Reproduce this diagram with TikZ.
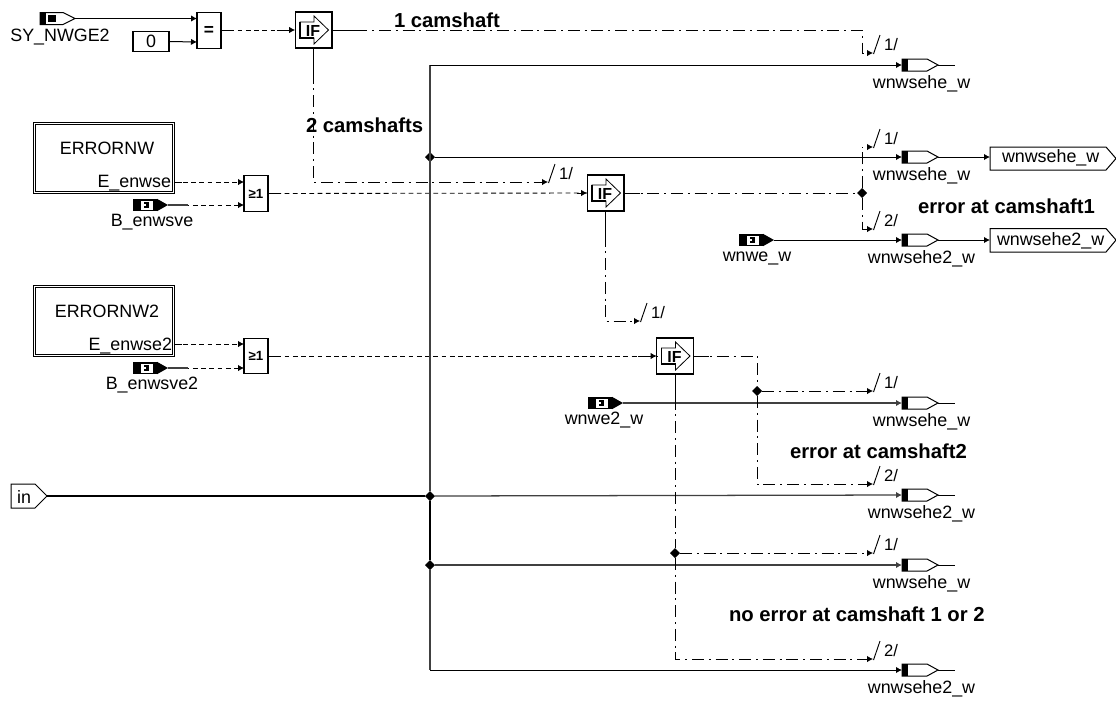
\documentclass[tikz,border=0pt]{standalone}
\usepackage{fontspec}
\setmainfont{Liberation Sans}
\usetikzlibrary{arrows.meta,shapes.geometric}
\tikzset{
  every node/.style={inner sep=0pt,outer sep=0pt},
  wire/.style={line width=0.75pt,draw=black},
  wireg/.style={line width=0.95pt,draw=black!75},
  tip/.style={-{Latex[length=4.5pt,width=4.8pt]}},
  thickwire/.style={line width=1.6pt,draw=black},
  boolwire/.style={line width=0.65pt,draw=black,dash pattern=on 3.6pt off 2.6pt},
  ctlwire/.style={line width=0.65pt,draw=black,dash pattern=on 9pt off 3.6pt on 1.5pt off 3.6pt},
  lbl/.style={font=\fontsize{13.4pt}{14pt}\selectfont},
  blbl/.style={font=\bfseries\fontsize{15.2pt}{16pt}\selectfont,anchor=west},
  busl/.style={font=\fontsize{12.5pt}{13pt}\selectfont,anchor=west},
  ifbox/.style={draw=black,line width=1pt,fill=white,minimum width=27.5pt,minimum height=27pt},
  gatebox/.style={draw=black,line width=0.85pt,fill=white,minimum width=18pt,minimum height=26.5pt,font=\bfseries\fontsize{10pt}{10pt}\selectfont},
  ctbox/.style={draw=black,line width=0.85pt,fill=white,minimum width=27pt,minimum height=15.5pt,font=\fontsize{13.4pt}{14pt}\selectfont},
  subsys/.style={draw=black,double=white,double distance=1.2pt,line width=0.6pt,fill=white,minimum width=104pt,minimum height=52pt},
  dot/.style={diamond,fill=black,minimum size=7.5pt},
}
% IF block contents
\newcommand{\ifglyph}[1]{%
  \begin{scope}[shift={(#1)}]
    \draw[line width=0.6pt,fill=white] (-13.5,-8)--(0.5,-8)--(0.5,-14)--(15,0)--(0.5,14)--(0.5,8)--(-13.5,8)--cycle;
    \draw[line width=1.2pt] (-13.5,-8)--(-13.5,8)--(0.5,8);
    \node[font=\bfseries\fontsize{12pt}{12pt}\selectfont] at (-0.5,0.5) {IF};
  \end{scope}}
% read block: name, left x, centre y, label offset, label, label x
\newcommand{\readblk}[6]{%
  \coordinate (#1) at (#2+35,#3);
  \fill (#2,#3-6.2) rectangle (#2+24,#3+6.2);
  \fill (#2+24,#3-6.2)--(#2+35,#3)--(#2+24,#3+6.2)--cycle;
  \fill[white] (#2+8,#3-4.5) rectangle (#2+20,#3+4.5);
  \fill (#2+10.5,#3-2.8) rectangle (#2+16,#3+2.8);
  \fill[white] (#2+11,#3-1) rectangle (#2+13,#3+1);
  \node[lbl] (#1lab) at (#6,#3+#4) {#5};
}
% write block: name, centre y, label
\newcommand{\writeblk}[3]{%
  \coordinate (#1) at (902,#2);
  \coordinate (#1o) at (938,#2);
  \coordinate (#1t) at (955,#2);
  \draw[line width=0.75pt,fill=white] (902,#2-6)--(927,#2-6)--(938,#2)--(927,#2+6)--(902,#2+6)--cycle;
  \fill (902,#2-6) rectangle (908,#2+6);
  \node[lbl] (#1lab) at (921.5,#2+18.5) {#3};
}
% bus tick: name, x, y, text
\newcommand{\busmark}[4]{%
  \coordinate (#1) at (#2,#3);
  \draw[line width=0.7pt] (#2+0.5,#3+1)--(#2+7,#3-18);
  \node[busl] (#1t) at (#2+11,#3-8.5) {#4};
}
\begin{document}
\begin{tikzpicture}[x=0.75pt,y=-0.75pt]
\useasboundingbox[fill=white] (0,0) rectangle (1116,701);

% --- top row
\draw[line width=0.75pt,fill=white] (40,12.5)--(63,12.5)--(75,18.5)--(63,24.5)--(40,24.5)--cycle;
\fill (40,12.5) rectangle (46,24.5);
\fill (48,15) rectangle (56,22);
\coordinate (syn) at (75,18.5);
\node[lbl] (synlab) at (60,37) {SY\_NWGE2};
\node[ctbox] (zero) at (151,41.5) {0};
\node[gatebox,font=\bfseries\fontsize{13pt}{13pt}\selectfont] (eq) at (209,30.5) {=};
\node[ifbox] (if1) at (313.5,30) {};
\ifglyph{if1}
\coordinate (eqa) at (197,18.5);
\coordinate (eqb) at (197,42);
\draw[wire,tip] (syn)--(eqa);
\draw[wire,tip] (zero.east)--(eqb);
\draw[boolwire] (eq.east|-if1)--(if1.west);
\draw[wire] (eq.east|-if1)--+(10,0);
\draw[wire,tip] ([xshift=-14pt]if1.west)--(if1.west);

% --- subsystems
\node[subsys] (err1) at (104,158) {};
\node[lbl] at (107,148) {ERRORNW};
\node[lbl,anchor=east] (e1) at (171,183) {E\_enwse};
\node[subsys] (err2) at (104,321) {};
\node[lbl] at (107,311) {ERRORNW2};
\node[lbl,anchor=east] (e2) at (172,346) {E\_enwse2};
\readblk{b1}{133}{205}{17}{B\_enwsve}{152}
\readblk{b2}{133}{368}{17}{B\_enwsve2}{152}
\readblk{wn1}{739}{240}{18}{wnwe\_w}{757}
\readblk{wn2}{588}{403}{17}{wnwe2\_w}{604}

\node[gatebox] (or1) at (256,193.5) {≥1};
\node[gatebox] (or2) at (256,356) {≥1};
\node[ifbox] (if2) at (605.5,193) {};
\ifglyph{if2}
\node[ifbox] (if3) at (675,356) {};
\ifglyph{if3}
\coordinate (e1s) at (174.5,182);
\coordinate (e2s) at (174.5,344);
\draw[boolwire,tip] (e1s)--(or1.west|-e1s);
\draw[wire] (e1s)--+(7,0);
\draw[boolwire,tip] (b1)--(or1.west|-b1);
\draw[wireg] (b1)--+(20,0);
\draw[boolwire,tip] (e2s)--(or2.west|-e2s);
\draw[wire] (e2s)--+(7,0);
\draw[boolwire,tip] (b2)--(or2.west|-b2);
\draw[wireg] (b2)--+(20,0);
\draw[boolwire] (or1.east)--(if2.west);
\draw[wire] (or1.east)--+(10,0);
\draw[wire,tip] ([xshift=-8pt]if2.west)--(if2.west);
\draw[boolwire] (or2.east)--(if3.west);
\draw[wire] (or2.east)--+(10,0);
\draw[wire,tip] ([xshift=-14pt]if3.west)--(if3.west);

% --- in
\draw[line width=0.75pt,fill=white] (11,484)--(35,484)--(47,496)--(35,508)--(11,508)--cycle;
\node[lbl] (inlab) at (24,497) {in};
\coordinate (in) at (47,496);

% --- bus junctions
\node[dot] (j1) at (430,157) {};
\node[dot] (j2) at (430,496) {};
\node[dot] (j3) at (430,565) {};
\coordinate (jt) at (430,65);
\coordinate (jb) at (430,670);

% --- write blocks
\writeblk{w1}{65}{wnwsehe\_w}
\writeblk{w2}{157}{wnwsehe\_w}
\writeblk{w3}{240}{wnwsehe2\_w}
\writeblk{w4}{403}{wnwsehe\_w}
\writeblk{w5}{495}{wnwsehe2\_w}
\writeblk{w6}{565}{wnwsehe\_w}
\writeblk{w7}{670}{wnwsehe2\_w}
\draw[wire] (w1o)--(w1t);
\draw[wire] (w4o)--(w4t);
\draw[wire] (w5o)--(w5t);
\draw[wire] (w6o)--(w6t);
\draw[wire] (w7o)--(w7t);

% --- outputs
\node[lbl,anchor=west] (o1t) at (1002,158) {wnwsehe\_w};
\draw[line width=0.75pt] (990,147)--(1106,147)--(1116,158.5)--(1106,170)--(990,170)--cycle;
\coordinate (o1) at (990,157);
\node[lbl,anchor=west] (o2t) at (997,240.5) {wnwsehe2\_w};
\draw[line width=0.75pt] (990,228.5)--(1106,228.5)--(1116,240)--(1106,252)--(990,252)--cycle;
\coordinate (o2) at (990,240);
\draw[wire,tip] (w2o)--(o1);
\draw[wire,tip] (w3o)--(o2);

% --- data wires
\draw[thickwire] (in)--(j2);
\draw[wireg] (jt)--(j2);
\draw[wireg] (j3)--(jb);
\draw[thickwire] (j2)--(j3);
\draw[wire,tip] (jt)--(w1);
\draw[wire,tip] (jb)--(w7);
\draw[wire,tip] (j1)--(w2);
\draw[wireg,tip] (j2)--(w5);
\draw[wireg,tip] (j3)--(w6);
\draw[wire,tip] (wn1)--(w3);
\draw[wireg,tip] (wn2)--(w4);

% --- control flow
\busmark{m1}{873}{53}{1/}
\busmark{m2}{548}{182}{1/}
\busmark{m3}{873}{147}{1/}
\busmark{m4}{873}{229}{2/}
\busmark{m5}{640}{321}{1/}
\busmark{m6}{873}{391}{1/}
\busmark{m7}{873}{484}{2/}
\busmark{m8}{873}{553}{1/}
\busmark{m9}{873}{659}{2/}
\node[dot] (k1) at (862,193) {};
\node[dot] (k2) at (757,391) {};
\node[dot] (k3) at (675,553) {};
\draw[ctlwire,tip] (if1.east)--(862,30)--(862,53)--(m1);
\draw[wire] (if1.east)--+(25,0);
\draw[ctlwire,tip] (if1.south)--(313.5,182)--(m2);
\draw[wire] (if1.south)--+(0,24);
\draw[ctlwire] (if2.east)--(k1);
\draw[wire] (if2.east)--+(16,0);
\draw[ctlwire,tip] (k1)--(862,147)--(m3);
\draw[ctlwire,tip] (k1)--(862,229)--(m4);
\draw[ctlwire,tip] (if2.south)--(605.5,321)--(m5);
\draw[wire] (if2.south)--+(0,24);
\draw[ctlwire] (if3.east)--(757,356)--(k2);
\draw[wire] (if3.east)--+(16,0);
\draw[ctlwire,tip] (k2)--(m6);
\draw[ctlwire,tip] (k2)--(757,484)--(m7);
\draw[ctlwire] (if3.south)--(k3);
\draw[wire] (if3.south)--+(0,24);
\draw[ctlwire,tip] (k3)--(m8);
\draw[ctlwire,tip] (k3)--(675,659)--(m9);

% --- comments
\node[blbl] (c1) at (394,20) {1 camshaft};
\node[blbl] (c2) at (306,125) {2 camshafts};
\node[blbl] (c3) at (918,206) {error at camshaft1};
\node[blbl] (c4) at (790,451) {error at camshaft2};
\node[blbl] (c5) at (729,614) {no error at camshaft 1 or 2};
\end{tikzpicture}
\end{document}
